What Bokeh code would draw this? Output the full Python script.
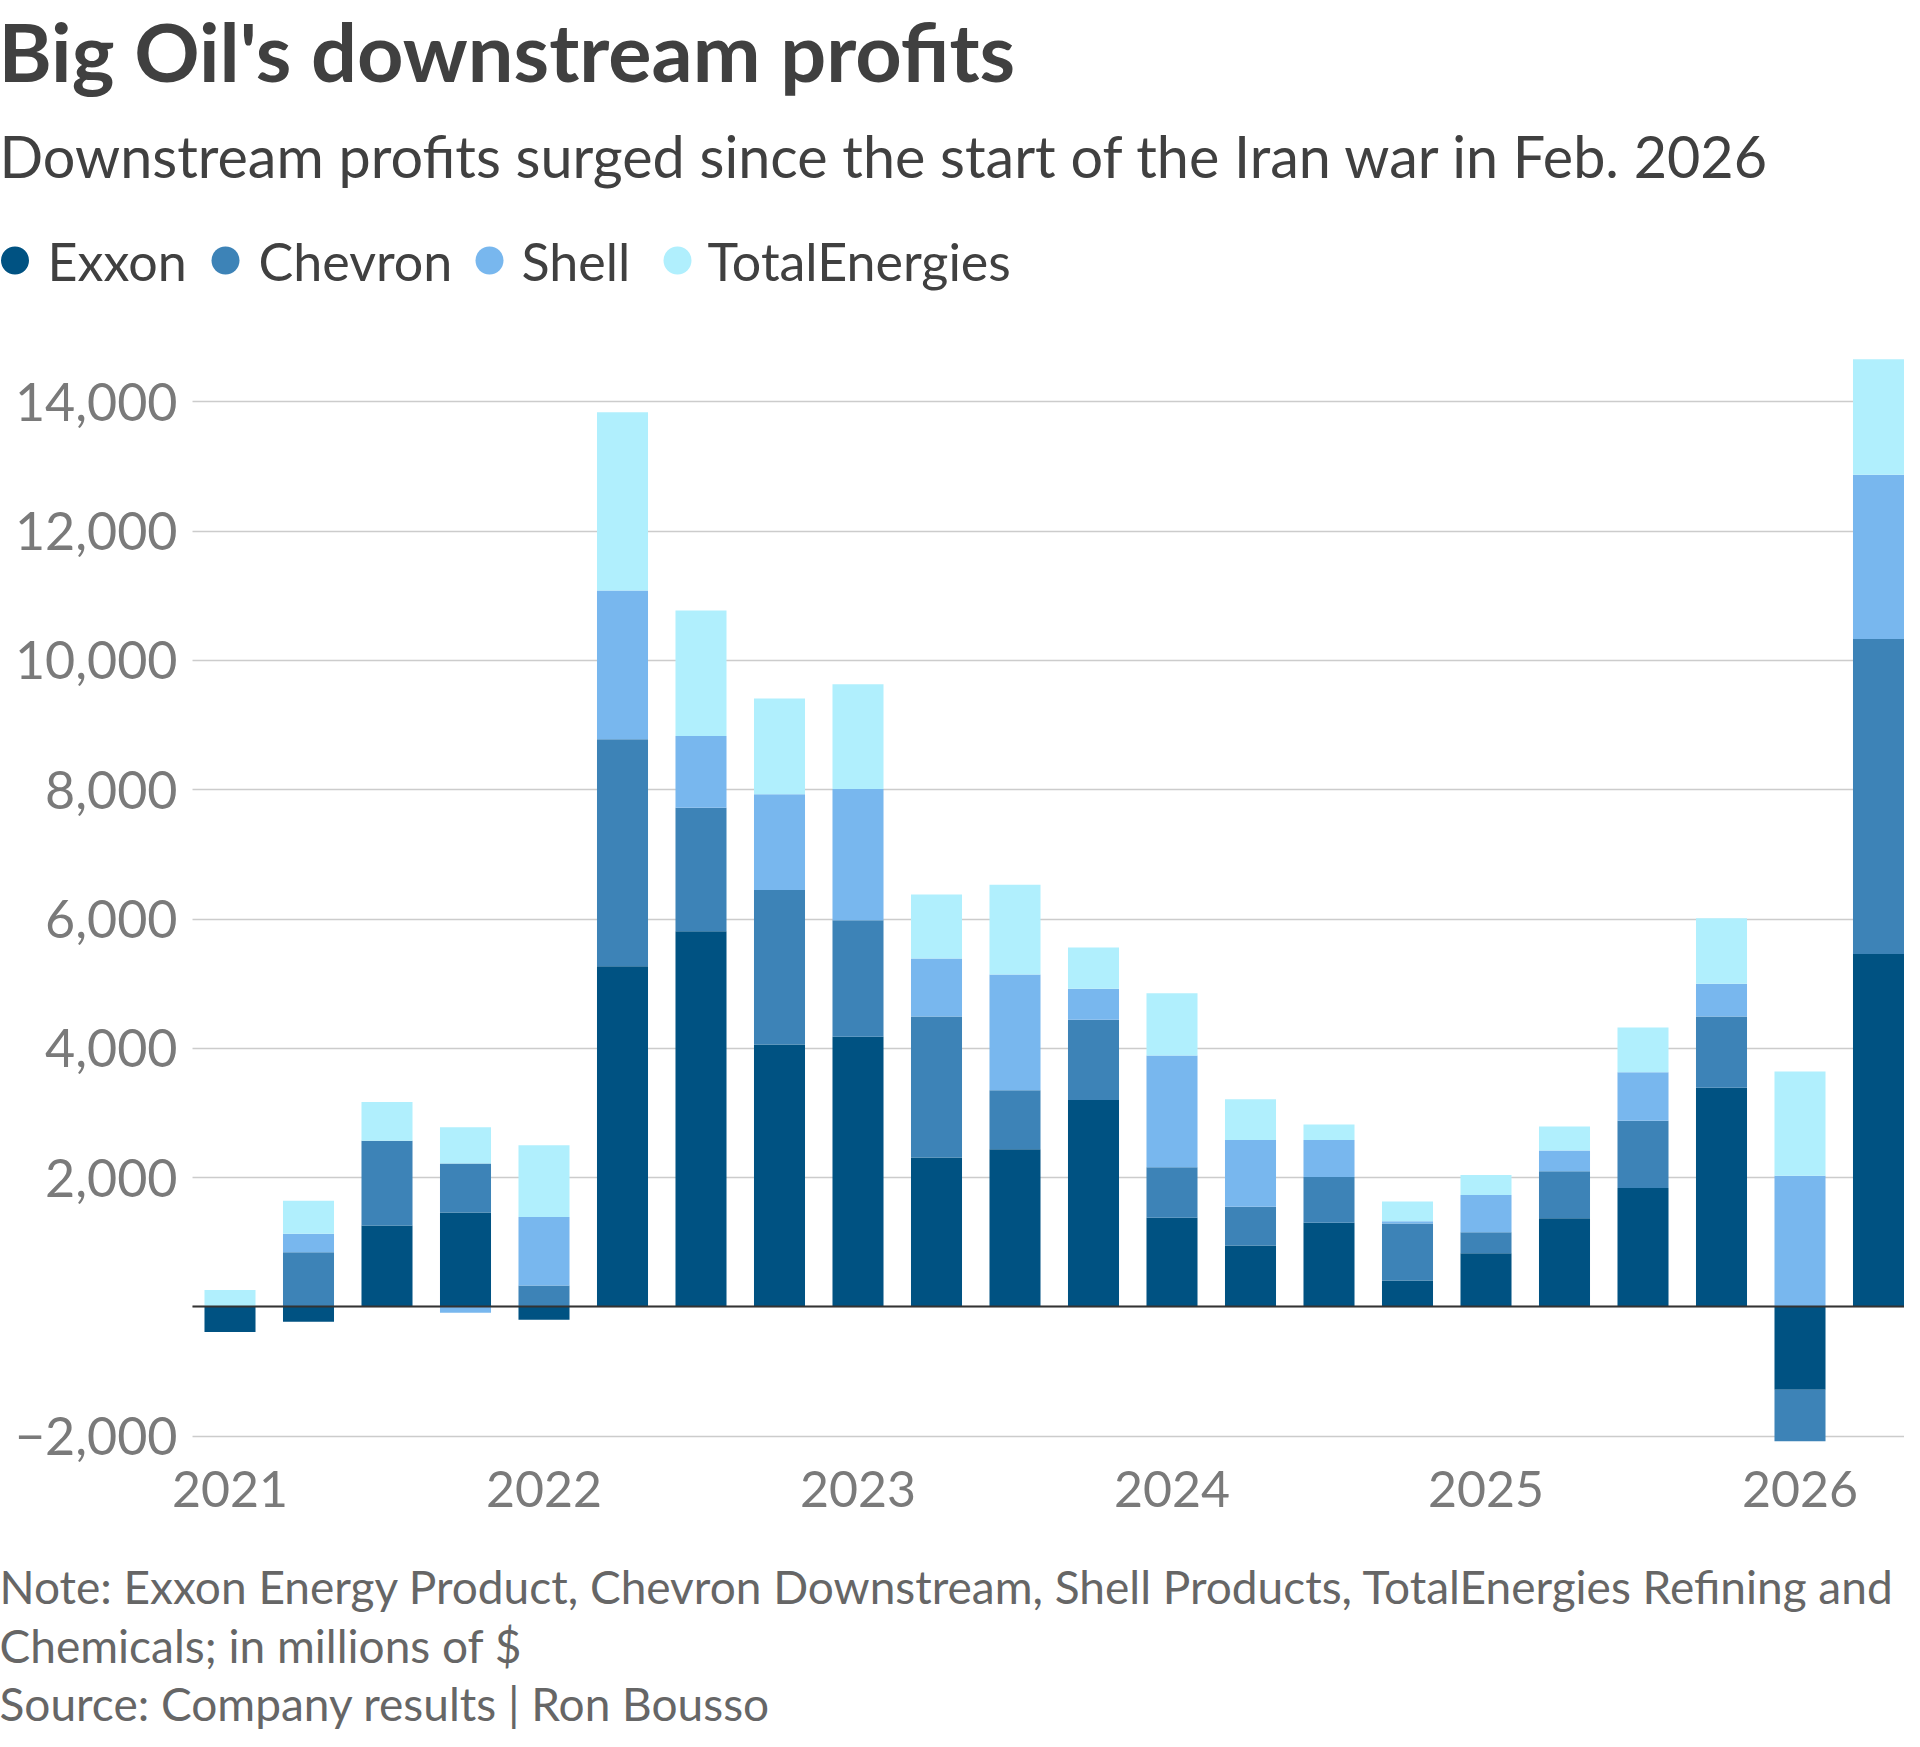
from bokeh.plotting import figure
from bokeh.models import (Range1d, FixedTicker, Label, ColumnDataSource,
                          LinearAxis)
from bokeh.embed import file_html
from bokeh.resources import INLINE

# ---------------- data (US$ millions) ----------------
quarters = ["Q1 2021", "Q2 2021", "Q3 2021", "Q4 2021",
            "Q1 2022", "Q2 2022", "Q3 2022", "Q4 2022",
            "Q1 2023", "Q2 2023", "Q3 2023", "Q4 2023",
            "Q1 2024", "Q2 2024", "Q3 2024", "Q4 2024",
            "Q1 2025", "Q2 2025", "Q3 2025", "Q4 2025",
            "Q1 2026", "Q2 2026"]
series = ["Exxon", "Chevron", "Shell", "TotalEnergies"]
exxon = [-390, -230, 1260, 1460, -200, 5270, 5810, 4060, 4180, 2310, 2440,
         3200, 1380, 950, 1300, 410, 830, 1370, 1840, 3390, -1280, 5460]
chevron = [0, 845, 1310, 760, 330, 3510, 1910, 2390, 1800, 2180, 910,
           1240, 780, 600, 710, 880, 325, 730, 1040, 1100, -800, 4870]
shell = [0, 285, 0, -90, 1060, 2300, 1110, 1480, 2030, 900, 1790,
         480, 1730, 1030, 570, 35, 575, 320, 750, 510, 2030, 2540]
total = [260, 510, 600, 560, 1110, 2760, 1940, 1480, 1620, 990, 1390,
         640, 960, 630, 240, 305, 310, 370, 690, 1010, 1610, 1790]
colors = ["#005282", "#3d83b7", "#78b7ee", "#b0effd"]

y_ticks = [-2000, 0, 2000, 4000, 6000, 8000, 10000, 12000, 14000]
y_tick_labels = ["\u22122,000", "", "2,000", "4,000", "6,000", "8,000",
                 "10,000", "12,000", "14,000"]
year_labels = ["2021", "2022", "2023", "2024", "2025", "2026"]

title = "Big Oil's downstream profits"
subtitle = "Downstream profits surged since the start of the Iran war in Feb. 2026"
note1 = "Note: Exxon Energy Product, Chevron Downstream, Shell Products, TotalEnergies Refining and"
note2 = "Chemicals; in millions of $"
source = "Source: Company results | Ron Bousso"

# ---------------- layout constants (pixels) ----------------
FONT = "Lato"
W, H = 1904, 1731
PLOT_L, PLOT_R = 192, 1904     # gridline extent
BAR0_X, STEP = 229.5, 78.5     # pixel centre of first bar, bar spacing
ZERO_Y, PX_PER_UNIT = 1306.4, 0.06465   # pixel of value 0, px per $1m
AXIS_Y = 1450                  # pixel row where the year labels hang

x_start = -BAR0_X / STEP
x_end = (W - BAR0_X) / STEP
y_end = ZERO_Y / PX_PER_UNIT
y_start = -(H - ZERO_Y) / PX_PER_UNIT

p = figure(width=W, height=H, output_backend="svg", toolbar_location=None,
           title=None, x_range=Range1d(x_start, x_end),
           y_range=Range1d(y_start, y_end),
           x_axis_location=None, y_axis_location=None,
           min_border=0, min_border_left=0, min_border_right=0,
           min_border_top=0, min_border_bottom=0)
p.outline_line_color = None
p.grid.visible = False
p.background_fill_color = "white"
p.border_fill_color = "white"
p.extra_x_ranges = {"px": Range1d(0, W)}
p.extra_y_ranges = {"px": Range1d(H, 0)}

# ---------------- bars ----------------
values = [exxon, chevron, shell, total]
data = {"x": list(range(len(quarters))), "q": quarters}
pos_keys, neg_keys = [], []
for name, vals in zip(series, values):
    data["pos_" + name] = [max(v, 0) for v in vals]
    data["neg_" + name] = [min(v, 0) for v in vals]
    pos_keys.append("pos_" + name)
    neg_keys.append("neg_" + name)
src = ColumnDataSource(data)

p.vbar_stack(pos_keys, x="x", width=0.65, color=colors, source=src, line_width=0)
p.vbar_stack(neg_keys, x="x", width=0.65, color=colors, source=src, line_width=0)

# ---------------- axes ----------------
grid_x = (PLOT_L - BAR0_X) / STEP
yaxis = LinearAxis(ticker=FixedTicker(ticks=y_ticks), fixed_location=grid_x,
                   major_label_overrides=dict(zip(y_ticks, y_tick_labels)),
                   axis_line_color=None, minor_tick_line_color=None,
                   major_tick_in=PLOT_R - PLOT_L, major_tick_out=0,
                   major_tick_line_color="#cccccc", major_tick_line_width=1.5,
                   major_label_text_font=FONT, major_label_text_font_size="52px",
                   major_label_text_color="#7a7a7a", major_label_standoff=15,
                   level="underlay")
p.add_layout(yaxis, "left")

year_pos = [quarters.index("Q1 " + y) for y in year_labels]
xaxis = LinearAxis(ticker=FixedTicker(ticks=year_pos),
                   fixed_location=-(AXIS_Y - ZERO_Y) / PX_PER_UNIT,
                   major_label_overrides=dict(zip(year_pos, year_labels)),
                   axis_line_color=None, major_tick_line_color=None,
                   minor_tick_line_color=None,
                   major_label_text_font=FONT, major_label_text_font_size="50px",
                   major_label_text_color="#7a7a7a", major_label_standoff=14)
p.add_layout(xaxis, "below")

# zero baseline (axis line at value 0)
base = LinearAxis(ticker=FixedTicker(ticks=[]), fixed_location=0,
                  bounds=(grid_x, x_end), axis_line_color="#333333",
                  axis_line_width=2, major_tick_line_color=None,
                  minor_tick_line_color=None, major_label_text_alpha=0,
                  level="overlay")
p.add_layout(base, "below")


# ---------------- texts (pixel coordinates of the baseline) ----------------
def add_text(txt, x, y, size, color, style="normal"):
    # the rendered baseline sits ~0.4 em below the anchor; compensate
    p.add_layout(Label(x=x, y=y - 0.4 * size, x_range_name="px", y_range_name="px",
                       text=txt, text_font=FONT, text_font_size=f"{size}px",
                       text_color=color, text_font_style=style,
                       text_baseline="alphabetic"))


add_text(title, -2, 82, 81, "#404040", style="bold")
add_text(subtitle, -1, 178, 57.5, "#404040")

legend_dot_x = [14.5, 225, 489, 677]
legend_text_x = [47, 258, 521, 707]
p.scatter(x=legend_dot_x, y=[260] * 4, size=28, marker="circle",
          color=colors, line_width=0, x_range_name="px", y_range_name="px")
for name, tx in zip(series, legend_text_x):
    add_text(name, tx, 281, 52, "#404040")

add_text(note1, -1, 1604, 46, "#666666")
add_text(note2, -1, 1663, 46, "#666666")
add_text(source, -1, 1721, 46, "#666666")

open("out.html", "w").write(file_html(p, INLINE))
